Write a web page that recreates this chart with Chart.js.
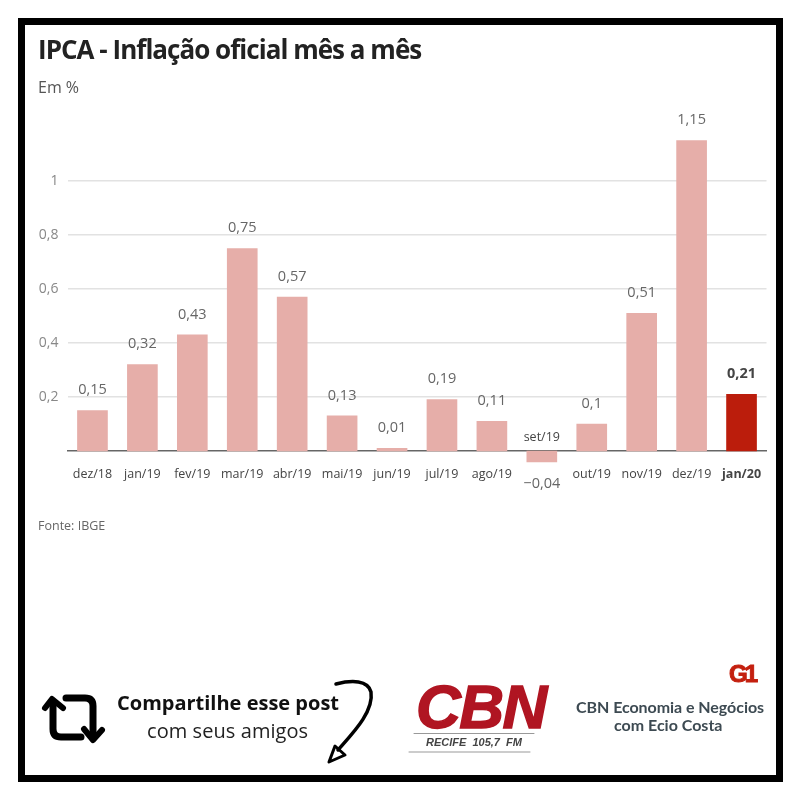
<!DOCTYPE html>
<html lang="pt-BR">
<head>
<meta charset="utf-8">
<title>IPCA - Inflação oficial mês a mês</title>
<script src="https://cdn.jsdelivr.net/npm/chart.js@4/dist/chart.umd.min.js"></script>
<style>
  html, body { margin: 0; padding: 0; background: #fff; }
  #page { position: relative; width: 800px; height: 800px; overflow: hidden; font-family: "Open Sans", sans-serif; }
  #frame { position: absolute; left: 18px; top: 18px; width: 751px; height: 750px; border: 7px solid #000; }
  #grafico { position: absolute; left: 0; top: 0; }
  #art { position: absolute; left: 0; top: 0; }
  .t { position: absolute; white-space: nowrap; line-height: 1; }
  .logo { filter: blur(0.5px); }
</style>
</head>
<body>
<div id="page">
  <canvas id="grafico" width="800" height="800"></canvas>
  <div id="frame"></div>
  <div class="t" style="left:38px;top:36px;font-size:26px;font-weight:700;letter-spacing:-0.97px;color:#222">IPCA - Inflação oficial mês a mês</div>
  <div class="t" style="left:38px;top:79px;font-size:16px;color:#555">Em %</div>
  <div class="t" style="left:38px;top:520px;font-size:12.5px;color:#666">Fonte: IBGE</div>

  <svg id="art" width="800" height="800" fill="none" stroke="#000" stroke-linecap="round" stroke-linejoin="round">
    <!-- icone de compartilhar -->
    <path d="M53 702V729Q53 737 61 737H81" stroke-width="7"/>
    <path d="M45 708L52 699L63 708" stroke-width="6"/>
    <path d="M66 698H85Q93 698 93 706V736" stroke-width="7"/>
    <path d="M84 729L93 740L102 730" stroke-width="6"/>
    <!-- seta -->
    <path d="M336 684C352 680 368 680 371 692C374 712 352 734 338 750" stroke-width="3.5"/>
    <path d="M335 746L329 762L345 755Z" stroke-width="3"/>
    <!-- linhas do logo CBN -->
    <path d="M414 733.5H534M409 752H530" stroke="#999" stroke-width="1"/>
  </svg>

  <div class="t" style="left:117px;top:693px;font-size:20px;font-weight:700;color:#111">Compartilhe esse post</div>
  <div class="t" style="left:147px;top:721px;font-size:20px;letter-spacing:.07px;color:#222">com seus amigos</div>

  <div class="t logo" style="left:416px;top:676px;font-family:'Liberation Sans';font-size:62px;font-weight:700;font-style:italic;letter-spacing:-1.5px;color:#b01522;-webkit-text-stroke:1.5px #b01522">CBN</div>
  <div class="t logo" style="left:426px;top:737px;font-family:'Liberation Sans';font-size:11px;font-weight:700;font-style:italic;color:#444;word-spacing:3px">RECIFE 105,7 FM</div>
  <div class="t logo" style="left:576px;top:699px;font-family:Lato;font-size:16px;font-weight:700;letter-spacing:-0.05px;color:#3d4a52">CBN Economia e Negócios</div>
  <div class="t logo" style="left:614px;top:717px;font-family:Lato;font-size:16px;font-weight:700;color:#3d4a52">com Ecio Costa</div>
  <div class="t logo" style="left:729px;top:662px;font-family:'Liberation Sans';font-size:24px;font-weight:700;letter-spacing:-3px;color:#c4200f;-webkit-text-stroke:1px #c4200f">G1</div>
</div>

<script>
const categorias = ["dez/18", "jan/19", "fev/19", "mar/19", "abr/19", "mai/19", "jun/19", "jul/19", "ago/19", "set/19", "out/19", "nov/19", "dez/19", "jan/20"];
const valores = [0.15, 0.32, 0.43, 0.75, 0.57, 0.13, 0.01, 0.19, 0.11, -0.04, 0.1, 0.51, 1.15, 0.21];
const rotulos = ["0,15", "0,32", "0,43", "0,75", "0,57", "0,13", "0,01", "0,19", "0,11", "−0,04", "0,1", "0,51", "1,15", "0,21"];
const marcasY = { "0.2": "0,2", "0.4": "0,4", "0.6": "0,6", "0.8": "0,8", "1": "1" };

const corBarra = "#e6aea9";
const corDestaque = "#bb1d0c";
const fonte = "'Open Sans', sans-serif";
const ultimo = categorias.length - 1;

function marcaY(v) {
  return marcasY[String(Math.round(v * 10) / 10)];
}

// rotulos de valor em cima das barras + categoria do valor negativo acima do eixo
const rotulosPlugin = {
  id: "rotulos",
  afterDatasetsDraw(chart) {
    const ctx = chart.ctx;
    const barras = chart.getDatasetMeta(0).data;
    const zero = chart.scales.y.getPixelForValue(0);
    ctx.save();
    ctx.textAlign = "center";
    ctx.textBaseline = "middle";
    barras.forEach((barra, i) => {
      const negativo = valores[i] < 0;
      ctx.font = (i === ultimo ? "700 " : "") + "14.5px " + fonte;
      ctx.fillStyle = i === ultimo ? "#444" : "#666";
      ctx.fillText(rotulos[i], barra.x, barra.y + (negativo ? 22 : -20.5));
      if (negativo) {
        ctx.font = "12.5px " + fonte;
        ctx.fillStyle = "#444";
        ctx.fillText(categorias[i], barra.x, zero - 14);
      }
    });
    ctx.restore();
  }
};

new Chart(document.getElementById("grafico"), {
  type: "bar",
  data: {
    labels: categorias,
    datasets: [{
      data: valores,
      backgroundColor: categorias.map((c, i) => i === ultimo ? corDestaque : corBarra),
      barThickness: 30
    }]
  },
  plugins: [rotulosPlugin],
  options: {
    responsive: false,
    animation: false,
    layout: { padding: { left: 0, right: 33.5, top: 127, bottom: 295 } },
    plugins: { legend: { display: false }, tooltip: { enabled: false } },
    scales: {
      x: {
        position: { y: 0 },
        afterFit(s) { s.height = 0; },
        grid: { display: false },
        border: { color: "#666", width: 1.5 },
        ticks: {
          autoSkip: false,
          maxRotation: 0,
          padding: 8,
          color: "#444",
          font: ctx => ({ family: fonte, size: 12.5, weight: ctx.index === ultimo ? "700" : "400" }),
          callback(v, i) { return valores[i] < 0 ? "" : categorias[i]; }
        }
      },
      y: {
        min: -0.2,
        max: 1.2,
        afterFit(s) { s.width = 67.5; },
        border: { display: false },
        grid: {
          drawTicks: false,
          lineWidth: 1.5,
          color: ctx => marcaY(ctx.tick.value) ? "#e2e2e2" : "rgba(0,0,0,0)"
        },
        ticks: {
          stepSize: 0.2,
          padding: 9,
          color: "#888",
          font: { family: fonte, size: 14 },
          callback(v) { return marcaY(v) || ""; }
        }
      }
    }
  }
});
</script>
</body>
</html>
